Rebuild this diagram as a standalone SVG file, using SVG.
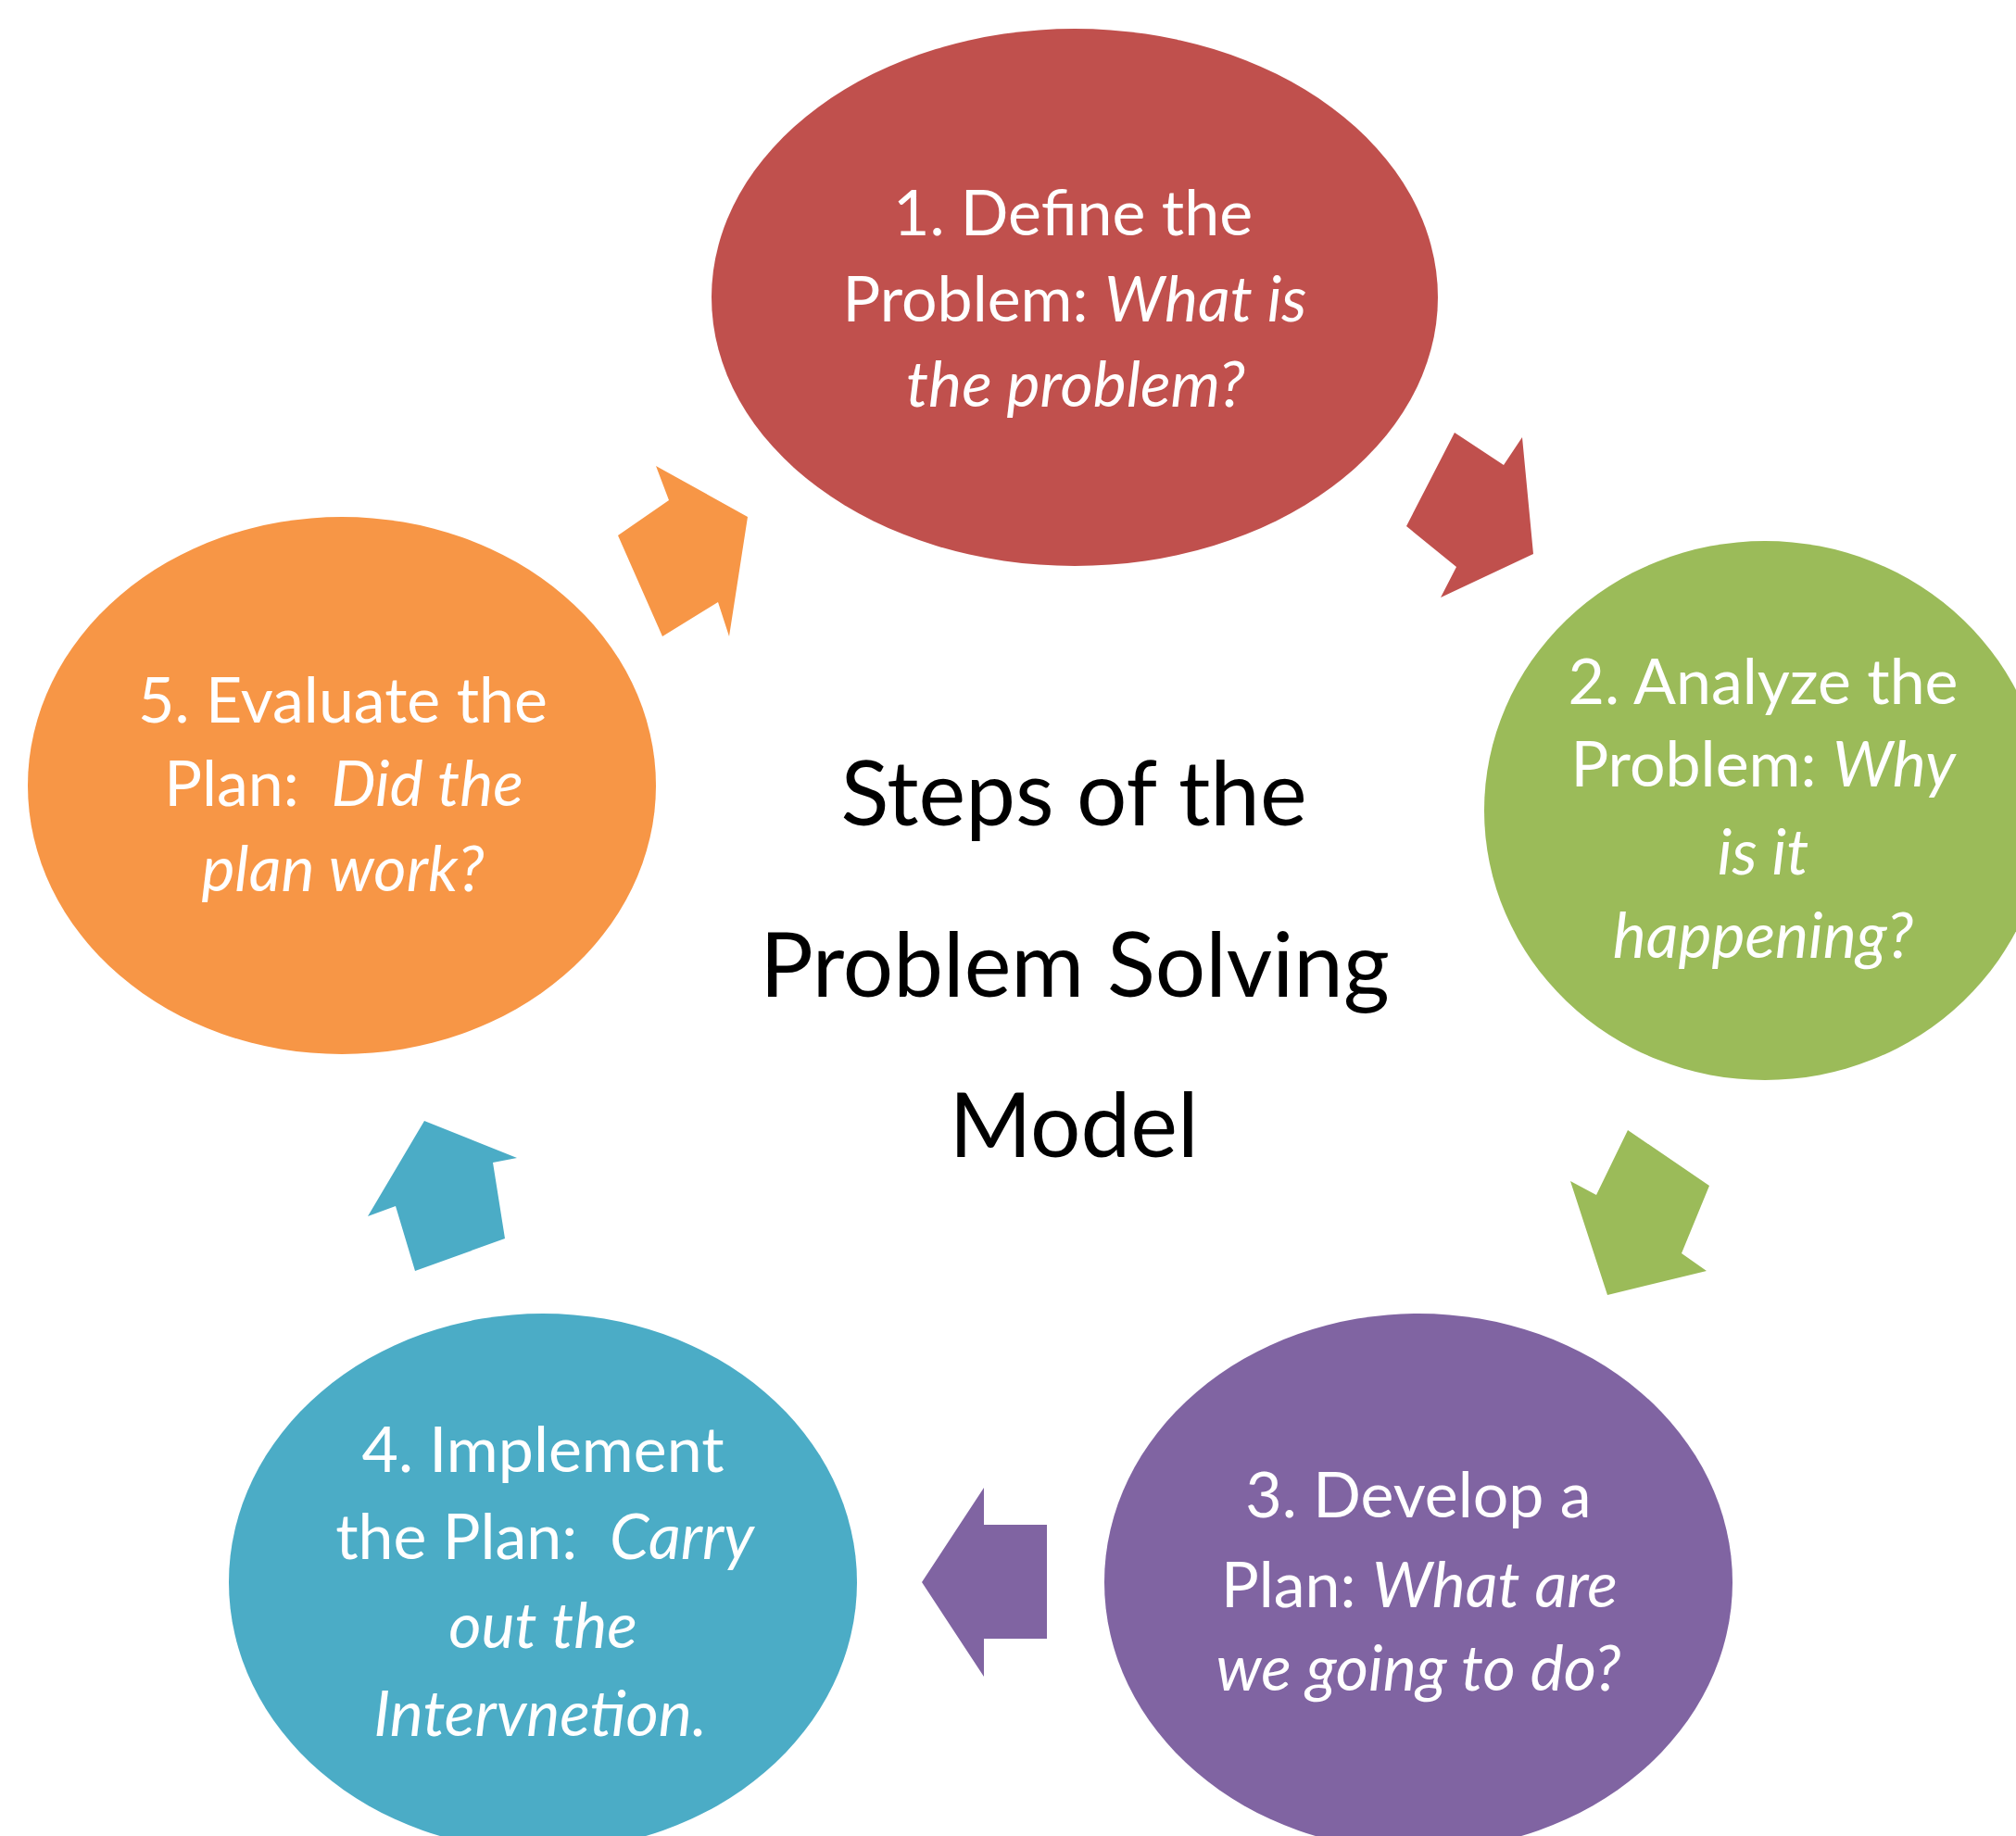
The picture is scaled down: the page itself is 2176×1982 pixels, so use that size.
<svg xmlns="http://www.w3.org/2000/svg" width="2176" height="1982" viewBox="0 0 2176 1982">
<style>
.lbl{font-family:Lato,"Open Sans","Liberation Sans",sans-serif;font-size:68px;fill:#ffffff;text-anchor:middle;white-space:pre}
.it{font-style:italic}
.title{font-family:Lato,"Open Sans","Liberation Sans",sans-serif;font-size:96px;fill:#000000;text-anchor:middle}
</style>
<rect x="0" y="0" width="2176" height="1982" fill="#ffffff"/>
<g id="connectors">
<polygon fill="#C0504D" points="1518,568 1570,467 1623,502 1643,472 1655,598 1555,645 1572,612"/>
<polygon fill="#9BBB59" points="1757,1220 1845,1280 1815,1353 1842,1372 1735,1398 1695,1275 1723,1290"/>
<polygon fill="#8064A2" points="1130,1646 1130,1769 1062,1769 1062,1810 995,1708 1062,1606 1062,1646"/>
<polygon fill="#4BACC6" points="448,1372 545,1337 532,1255 558,1250 458,1210 397,1313 427,1302"/>
<polygon fill="#F79646" points="667,578 722,540 708,503 807,558 787,687 775,650 715,687"/>
</g>
<g id="node1">
<ellipse cx="1160" cy="321" rx="392" ry="290" fill="#C0504D"/>
<text class="lbl" x="1158" y="254">1. Define the</text>
<text class="lbl" x="1160" y="347">Problem: <tspan class="it">What is</tspan></text>
<text class="lbl it" x="1161" y="439">the problem?</text>
</g>
<g id="node2">
<ellipse cx="1905" cy="875" rx="303" ry="291" fill="#9BBB59"/>
<text class="lbl" x="1903" y="760">2. Analyze the</text>
<text class="lbl" x="1903" y="849">Problem: <tspan class="it">Why</tspan></text>
<text class="lbl it" x="1903" y="944">is it</text>
<text class="lbl it" x="1903" y="1034">happening?</text>
</g>
<g id="node3">
<ellipse cx="1531" cy="1708" rx="339" ry="290" fill="#8064A2"/>
<text class="lbl" x="1531" y="1638">3. Develop a</text>
<text class="lbl" x="1532" y="1735">Plan: <tspan class="it">What are</tspan></text>
<text class="lbl it" x="1531" y="1825">we going to do?</text>
</g>
<g id="node4">
<ellipse cx="586" cy="1708" rx="339" ry="290" fill="#4BACC6"/>
<text class="lbl" x="586" y="1589">4. Implement</text>
<text class="lbl" x="588" y="1683">the Plan:  <tspan class="it">Carry</tspan></text>
<text class="lbl it" x="586" y="1779">out the</text>
<text class="lbl it" x="583" y="1874">Intervnetion.</text>
</g>
<g id="node5">
<ellipse cx="369" cy="848" rx="339" ry="290" fill="#F79646"/>
<text class="lbl" x="370" y="780">5. Evaluate the</text>
<text class="lbl" x="371" y="870">Plan:  <tspan class="it">Did the</tspan></text>
<text class="lbl it" x="370" y="962">plan work?</text>
</g>
<g id="title">
<text class="title" x="1159" y="891">Steps of the</text>
<text class="title" x="1160" y="1076">Problem Solving</text>
<text class="title" x="1159" y="1249">Model</text>
</g>
</svg>
